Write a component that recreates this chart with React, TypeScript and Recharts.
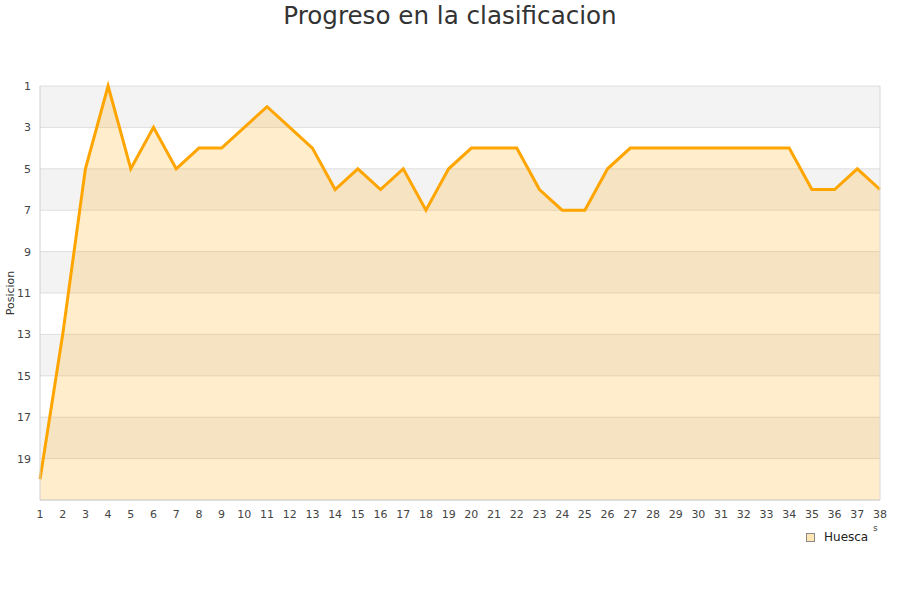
import React from 'react';
import { AreaChart, Area, XAxis, YAxis, CartesianGrid, Legend } from 'recharts';

const jornadas = [
  1, 2, 3, 4, 5, 6, 7, 8, 9, 10, 11, 12, 13, 14, 15, 16, 17, 18, 19,
  20, 21, 22, 23, 24, 25, 26, 27, 28, 29, 30, 31, 32, 33, 34, 35, 36, 37, 38,
];
const posiciones = [
  20, 13, 5, 1, 5, 3, 5, 4, 4, 3, 2, 3, 4, 6, 5, 6, 5, 7, 5,
  4, 4, 4, 6, 7, 7, 5, 4, 4, 4, 4, 4, 4, 4, 4, 6, 6, 5, 6,
];
const yTicks = [1, 3, 5, 7, 9, 11, 13, 15, 17, 19];

const data = jornadas.map((j, i) => ({ jornada: j, Huesca: posiciones[i] }));

const FONT = '"DejaVu Sans", Verdana, sans-serif';
const tickStyle = { fontSize: 11, fill: '#444', fontFamily: FONT };

function LegendContent({ payload }: any) {
  return (
    <div style={{ position: 'relative', fontFamily: FONT, fontSize: 12, color: '#222', height: 15 }}>
      {(payload || []).map((p: any) => (
        <div key={p.value} style={{ display: 'flex', alignItems: 'center' }}>
          <span
            style={{
              display: 'inline-block',
              width: 7,
              height: 7,
              background: '#ffe6b3',
              border: '1px solid #888',
              marginRight: 9,
            }}
          />
          <span>{p.value}</span>
        </div>
      ))}
      <span style={{ position: 'absolute', left: 67, top: -7, fontSize: 9, color: '#444' }}>s</span>
    </div>
  );
}

export default function App() {
  return (
    <div style={{ position: 'absolute', left: 0, top: 0, width: 900, height: 600, background: '#fff' }}>
      <div
        style={{
          position: 'absolute',
          top: 0,
          width: 900,
          textAlign: 'center',
          fontFamily: FONT,
          fontSize: 24.6,
          color: '#333',
          lineHeight: '32px',
        }}
      >
        Progreso en la clasificacion
      </div>
      <AreaChart
        width={900}
        height={600}
        data={data}
        margin={{ top: 86, right: 0, bottom: 55, left: 0 }}
      >
        <CartesianGrid
          yAxisId="pos"
          vertical={false}
          stroke="#dedede"
          horizontalFill={['#f3f3f3', '#ffffff']}
        />
        <XAxis
          dataKey="jornada"
          interval={0}
          tickLine={false}
          axisLine={{ stroke: '#d0d0d0' }}
          tick={tickStyle}
          tickMargin={4}
          height={30}
        />
        <YAxis
          yAxisId="pos"
          reversed
          domain={[1, 21]}
          ticks={yTicks}
          interval={0}
          width={40}
          tickLine={false}
          axisLine={{ stroke: '#d0d0d0' }}
          tick={tickStyle}
          tickMargin={3}
          label={{
            value: 'Posicion',
            angle: -90,
            position: 'insideLeft',
            offset: 10,
            style: { fontSize: 11, fill: '#333', fontFamily: FONT, textAnchor: 'middle' },
          }}
        />
        <YAxis
          yAxisId="border"
          orientation="right"
          width={20}
          tick={false}
          tickLine={false}
          axisLine={{ stroke: '#d8d8d8' }}
        />
        <Area
          yAxisId="pos"
          type="linear"
          dataKey="Huesca"
          stroke="#ffa500"
          strokeWidth={3}
          fill="#ffa500"
          fillOpacity={0.2}
          baseValue={21}
          dot={false}
          activeDot={false}
          isAnimationActive={false}
        />
        <Legend
          content={<LegendContent />}
          layout="vertical"
          wrapperStyle={{ position: 'absolute', left: 806, top: 530, width: 90 }}
        />
      </AreaChart>
    </div>
  );
}
